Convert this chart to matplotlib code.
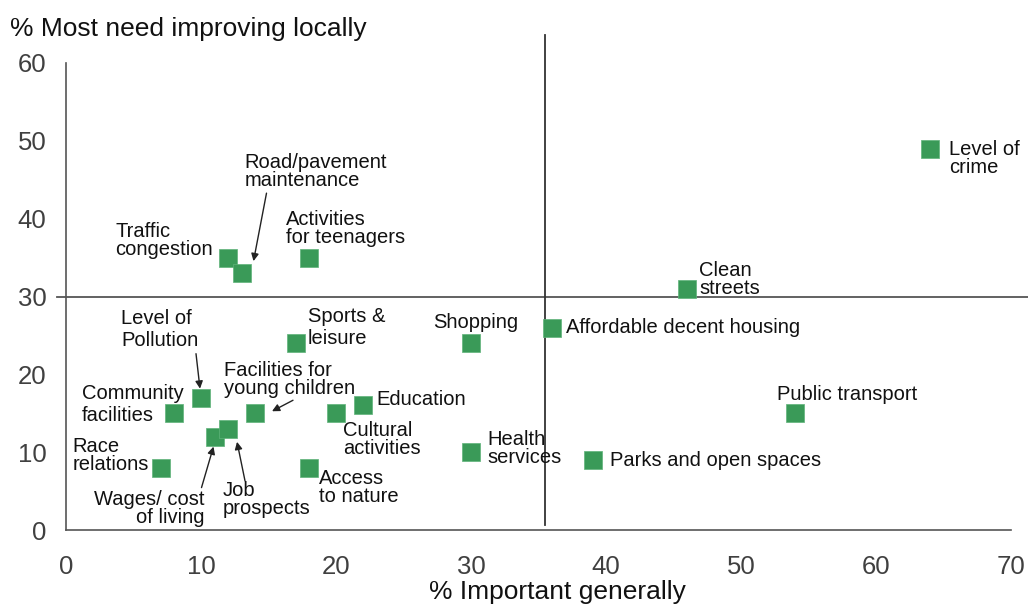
import matplotlib.pyplot as plt

plt.rcParams['font.family'] = ['Liberation Sans', 'DejaVu Sans']

# survey results: % important generally vs % most need improving locally
labels = ["Level of\ncrime", "Clean\nstreets", "Affordable decent housing",
          "Public transport", "Parks and open spaces", "Health\nservices",
          "Shopping", "Traffic\ncongestion", "Road/pavement\nmaintenance",
          "Activities\nfor teenagers", "Sports &\nleisure", "Level of\nPollution",
          "Community\nfacilities", "Facilities for\nyoung children", "Education",
          "Cultural\nactivities", "Wages/ cost\nof living", "Job\nprospects",
          "Race\nrelations", "Access\nto nature"]
important = [64, 46, 36, 54, 39, 30, 30, 12, 13, 18, 17, 10, 8, 14, 22, 20, 11, 12, 7, 18]
need_improving = [49, 31, 26, 15, 9, 10, 24, 35, 33, 35, 24, 17, 15, 15, 16, 15, 12, 13, 8, 8]

avg_important = 35.5
avg_need = 30

# label placement: offset in pixels from the point, alignment, line spacing
layout = {
    "Level of\ncrime": ((19, -10), "left", 0.95),
    "Clean\nstreets": ((12, 9), "left", 0.95),
    "Affordable decent housing": ((14, 0), "left", 1.0),
    "Public transport": ((-18, 19), "left", 1.0),
    "Parks and open spaces": ((18, -1), "left", 1.0),
    "Health\nservices": ((16, 4), "left", 0.95),
    "Shopping": ((-38, 21), "left", 1.0),
    "Traffic\ncongestion": ((-113, 17), "left", 0.95),
    "Road/pavement\nmaintenance": ((3, 102), "left", 0.95),
    "Activities\nfor teenagers": ((-23, 29), "left", 0.95),
    "Sports &\nleisure": ((12, 16), "left", 1.2),
    "Level of\nPollution": ((-80, 68), "left", 1.2),
    "Community\nfacilities": ((-92, 9), "left", 1.2),
    "Facilities for\nyoung children": ((-31, 34), "left", 0.95),
    "Education": ((13, 6), "left", 1.0),
    "Cultural\nactivities": ((7, -26), "left", 0.95),
    "Wages/ cost\nof living": ((-10, -72), "right", 0.95),
    "Job\nprospects": ((-5, -71), "left", 0.95),
    "Race\nrelations": ((-88, 12), "left", 0.95),
    "Access\nto nature": ((10, -20), "left", 0.95),
}

# arrows: (head offset, tail offset) in pixels from the point
arrows = {
    "Road/pavement\nmaintenance": ((12, 12), (25, 80)),
    "Level of\nPollution": ((-1, 9), (-5, 44)),
    "Facilities for\nyoung children": ((17, 2), (38, 13)),
    "Wages/ cost\nof living": ((-1, -10), (-13, -51)),
    "Job\nprospects": ((9, -13), (17, -52)),
}

fig = plt.figure(figsize=(10.28, 6.04), dpi=100)
ax = fig.add_axes([66 / 1028, 1 - 530 / 604, (1011 - 66) / 1028, (530 - 63) / 604])

ax.set_xlim(0, 70)
ax.set_ylim(0, 60)

grey = '#555555'
for side in ['top', 'right']:
    ax.spines[side].set_visible(False)
for side in ['left', 'bottom']:
    ax.spines[side].set_color(grey)
    ax.spines[side].set_linewidth(1.2)

ax.set_xticks(range(0, 71, 10))
ax.set_yticks(range(0, 61, 10))
ax.tick_params(axis='both', length=0, labelsize=18.5, labelcolor='#404040')
ax.tick_params(axis='x', pad=18)
ax.tick_params(axis='y', pad=14)

# quadrant lines at the averages
ax.plot([-0.7, 72], [avg_need, avg_need], color=grey, lw=1.3, clip_on=False, zorder=1)
ax.plot([avg_important, avg_important], [0.6, 63.6], color='#333333', lw=1.3, clip_on=False, zorder=1)

ax.scatter(important, need_improving, marker='s', s=160, color='#3a9a58',
           edgecolors='#5fb37a', linewidths=0.5, zorder=3)

for lab, x, y in zip(labels, important, need_improving):
    (dx, dy), ha, ls = layout[lab]
    ax.annotate(lab, xy=(x, y), xytext=(dx, dy), textcoords='offset pixels',
                ha=ha, va='center', multialignment=ha, fontsize=14.5,
                linespacing=ls, color='#111111', zorder=4)
    if lab in arrows:
        head, tail = arrows[lab]
        tx, ty = ax.transData.transform((x, y))
        ax.annotate('', xy=(tx + head[0], ty + head[1]), xycoords='figure pixels',
                    xytext=(tx + tail[0], ty + tail[1]), textcoords='figure pixels',
                    arrowprops=dict(arrowstyle='-|>', color='#222222', lw=1,
                                    mutation_scale=11, shrinkA=0, shrinkB=0))

fig.text(10 / 1028, 1 - 29 / 604, "% Most need improving locally", fontsize=19,
         ha='left', va='center', color='#111111')
fig.text(557 / 1028, 1 - 592 / 604, "% Important generally", fontsize=19,
         ha='center', va='center', color='#111111')

fig.savefig('out.png', dpi=100)
